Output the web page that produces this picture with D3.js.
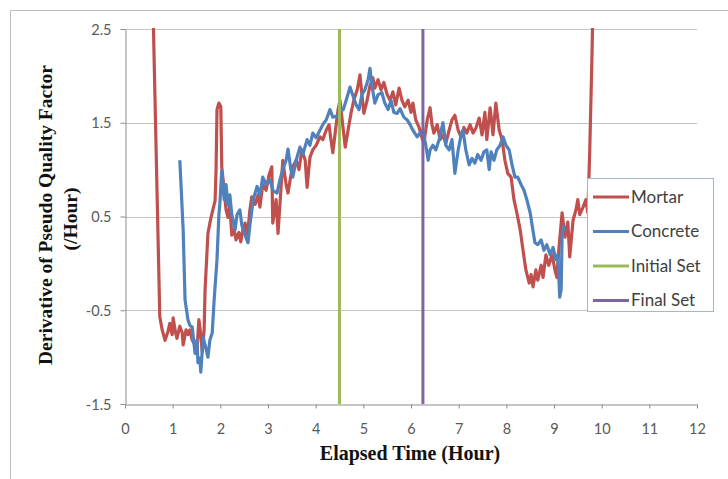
<!DOCTYPE html>
<html><head><meta charset="utf-8">
<script src="https://cdn.jsdelivr.net/npm/d3@7"></script>
<style>body{margin:0;background:#fff}svg{display:block}</style>
</head><body>
<svg id="c" width="728" height="479"></svg>
<script>
const xTicks = [0,1,2,3,4,5,6,7,8,9,10,11,12];
const yTicks = [-1.5,-0.5,0.5,1.5,2.5];
const yTickLabels = ["-1.5","-0.5","0.5","1.5","2.5"];
const seriesNames = ["Mortar","Concrete","Initial Set","Final Set"];

const mortarX = [0.58,0.73,0.78,0.84,0.90,0.94,0.99,1.01,1.05,1.09,1.15,1.20,1.22,1.28,1.32,1.36,1.41,1.47,1.51,1.55,1.59,1.62,1.66,1.68,1.74,1.80,1.89,1.91,1.93,1.97,2.01,2.03,2.08,2.12,2.16,2.20,2.24,2.29,2.33,2.39,2.43,2.48,2.52,2.56,2.62,2.66,2.73,2.79,2.83,2.89,2.96,3.02,3.08,3.10,3.17,3.21,3.27,3.31,3.38,3.42,3.48,3.52,3.59,3.65,3.71,3.78,3.82,3.88,3.94,4.01,4.09,4.15,4.22,4.28,4.32,4.36,4.43,4.47,4.51,4.58,4.62,4.68,4.74,4.80,4.87,4.93,4.97,5.01,5.08,5.14,5.20,5.24,5.31,5.37,5.43,5.50,5.56,5.62,5.68,5.75,5.81,5.87,5.94,6.00,6.04,6.10,6.17,6.21,6.27,6.34,6.40,6.44,6.48,6.55,6.61,6.67,6.73,6.80,6.86,6.92,6.99,7.05,7.11,7.17,7.24,7.30,7.36,7.43,7.49,7.55,7.59,7.66,7.72,7.78,7.85,7.91,7.97,8.03,8.10,8.16,8.22,8.29,8.35,8.41,8.48,8.52,8.56,8.62,8.66,8.73,8.77,8.83,8.89,8.96,9.02,9.06,9.10,9.17,9.23,9.29,9.33,9.40,9.46,9.50,9.54,9.61,9.67,9.71,9.75,9.80,9.82];
const mortarY = [2.9,-0.57,-0.71,-0.82,-0.73,-0.64,-0.76,-0.58,-0.71,-0.80,-0.67,-0.74,-0.87,-0.71,-0.76,-0.71,-0.82,-0.87,-0.92,-0.60,-0.76,-0.95,-0.71,-0.28,0.32,0.48,0.67,0.99,1.64,1.71,1.67,1.03,0.78,0.57,0.49,0.62,0.30,0.36,0.25,0.33,0.23,0.38,0.43,0.25,0.57,0.71,0.63,0.73,0.60,0.84,0.78,0.94,1.03,0.43,0.68,0.32,0.78,1.10,0.84,0.75,0.94,1.03,1.10,1.00,1.21,1.10,0.81,1.13,1.21,1.26,1.35,1.32,1.42,1.48,1.32,1.18,1.48,1.64,1.74,1.42,1.24,1.42,1.60,1.74,1.85,2.01,1.80,1.60,1.74,1.90,1.98,1.87,1.96,1.85,1.93,1.80,1.74,1.83,1.69,1.87,1.74,1.67,1.74,1.61,1.71,1.53,1.45,1.37,1.28,1.53,1.66,1.48,1.39,1.48,1.32,1.37,1.28,1.42,1.53,1.58,1.42,1.35,1.45,1.39,1.48,1.39,1.44,1.55,1.37,1.61,1.32,1.66,1.37,1.71,1.42,1.32,1.10,0.96,0.92,0.68,0.54,0.36,0.14,-0.07,-0.21,-0.12,-0.25,-0.07,-0.18,-0.02,-0.15,0.09,-0.02,0.09,-0.07,-0.15,0.14,0.54,0.28,0.44,0.07,0.46,0.57,0.68,0.52,0.60,0.68,0.54,1.21,2.28,2.9];

const concreteX = [1.15,1.22,1.26,1.32,1.36,1.41,1.45,1.47,1.51,1.53,1.57,1.59,1.64,1.68,1.74,1.78,1.83,1.87,1.93,1.97,1.99,2.03,2.08,2.12,2.16,2.20,2.24,2.31,2.35,2.41,2.45,2.52,2.58,2.62,2.69,2.77,2.83,2.89,2.96,3.04,3.10,3.19,3.25,3.31,3.38,3.42,3.48,3.52,3.59,3.67,3.73,3.82,3.88,3.94,4.01,4.09,4.15,4.22,4.30,4.36,4.45,4.51,4.58,4.64,4.72,4.78,4.85,4.91,4.97,5.03,5.10,5.14,5.18,5.24,5.31,5.39,5.45,5.52,5.58,5.64,5.71,5.77,5.85,5.92,5.98,6.04,6.13,6.19,6.25,6.31,6.36,6.40,6.46,6.52,6.59,6.67,6.73,6.80,6.86,6.92,6.99,7.05,7.09,7.15,7.22,7.28,7.34,7.40,7.47,7.53,7.59,7.64,7.68,7.74,7.80,7.87,7.93,7.99,8.06,8.12,8.18,8.24,8.31,8.37,8.43,8.50,8.54,8.60,8.66,8.73,8.79,8.85,8.92,8.98,9.04,9.08,9.12,9.15,9.17,9.21];
const concreteY = [1.10,0.36,-0.39,-0.60,-0.66,-0.68,-0.87,-0.96,-0.82,-1.06,-1.01,-1.16,-0.79,-0.87,-1.00,-0.82,-0.74,-0.39,0.04,0.52,0.64,0.99,0.68,0.84,0.62,0.73,0.52,0.36,0.52,0.57,0.41,0.30,0.22,0.41,0.68,0.82,0.73,0.92,0.84,0.89,0.78,0.75,0.89,1.00,1.10,1.22,1.00,0.92,1.10,1.24,1.16,1.32,1.26,1.39,1.34,1.42,1.48,1.53,1.64,1.56,1.57,1.62,1.64,1.74,1.88,1.79,1.69,1.64,1.80,1.85,1.96,2.08,1.90,1.71,1.80,1.82,1.71,1.64,1.74,1.61,1.60,1.65,1.56,1.53,1.48,1.42,1.35,1.39,1.42,1.26,1.10,1.21,1.26,1.21,1.32,1.50,1.26,1.21,1.32,0.96,1.21,1.37,1.42,1.21,1.05,1.12,1.07,1.16,1.10,1.19,1.21,1.00,1.19,1.10,1.21,1.26,1.35,1.26,1.21,1.05,0.92,0.92,0.84,0.78,0.68,0.54,0.41,0.22,0.20,0.25,0.14,0.20,0.09,0.17,0.04,0.09,-0.36,-0.28,0.30,0.41];

const initialSet = 4.5;
const finalSet = 6.25;

const colors = {"Mortar":"#c0504d","Concrete":"#4f81bd","Initial Set":"#9bbb59","Final Set":"#8064a2"};

const svg = d3.select("#c");
const W = 728, H = 479;
const m = {l:125, r:697, t:29, b:404};
const x = d3.scaleLinear().domain([0,12]).range([m.l, m.r]);
const y = d3.scaleLinear().domain([-1.5,2.5]).range([m.b, m.t]);

// outer frame (left & top)
svg.append("line").attr("x1",10.5).attr("x2",10.5).attr("y1",10).attr("y2",H).attr("stroke","#bdbdbd");
svg.append("line").attr("x1",10).attr("x2",W).attr("y1",10.5).attr("y2",10.5).attr("stroke","#bdbdbd");

// gridlines
svg.append("g").selectAll("line").data(yTicks.filter(d=>d!==-1.5)).join("line")
  .attr("x1",m.l).attr("x2",m.r).attr("y1",d=>Math.round(y(d))+0.5).attr("y2",d=>Math.round(y(d))+0.5)
  .attr("stroke","#c4c4c4").attr("stroke-width",1);

// axes
const fontTick = "Lato, 'Open Sans', sans-serif";
const xAxis = svg.append("g").attr("transform",`translate(0,${m.b+0.5})`)
  .call(d3.axisBottom(x).tickValues(xTicks).tickSize(4).tickSizeOuter(0).tickFormat(d3.format("d")));
const yAxis = svg.append("g").attr("transform",`translate(${m.l+0.5},0)`)
  .call(d3.axisLeft(y).tickValues(yTicks).tickSize(5).tickSizeOuter(0).tickFormat((d,i)=>yTickLabels[i]));
[xAxis,yAxis].forEach(g=>{
  g.selectAll("path,line").attr("stroke","#8c8c8c");
  g.selectAll("text").attr("fill","#595959").attr("font-family",fontTick).attr("font-size",14.5);
});
xAxis.selectAll("text").attr("dy","0").attr("y",29);
yAxis.selectAll("text").attr("x",-14).attr("dy","0.35em");

// clip
svg.append("clipPath").attr("id","clip").append("rect")
  .attr("x",m.l).attr("y",m.t-1).attr("width",m.r-m.l).attr("height",m.b-m.t+1);

const line = d3.line().x(d=>x(d[0])).y(d=>y(d[1]));
const plot = svg.append("g").attr("clip-path","url(#clip)");
plot.append("path").datum(d3.zip(mortarX,mortarY)).attr("d",line)
  .attr("fill","none").attr("stroke",colors["Mortar"]).attr("stroke-width",3.2).attr("stroke-linejoin","round");
plot.append("path").datum(d3.zip(concreteX,concreteY)).attr("d",line)
  .attr("fill","none").attr("stroke",colors["Concrete"]).attr("stroke-width",3.2).attr("stroke-linejoin","round");
[[initialSet,"Initial Set"],[finalSet,"Final Set"]].forEach(([v,n])=>{
  plot.append("line").attr("x1",x(v)).attr("x2",x(v)).attr("y1",y(2.5)).attr("y2",y(-1.5))
    .attr("stroke",colors[n]).attr("stroke-width",3);
});

// axis titles
const serif = "'Liberation Serif', 'Times New Roman', serif";
svg.append("text").attr("x",410).attr("y",460).attr("text-anchor","middle")
  .attr("font-family",serif).attr("font-weight","bold")
  .attr("font-size",20).attr("fill","#111").text("Elapsed Time (Hour)");
svg.append("g").attr("transform","translate(52,215) rotate(-90)").append("text")
  .attr("text-anchor","middle")
  .attr("font-family",serif).attr("font-weight","bold")
  .attr("font-size",19.5).attr("fill","#111").text("Derivative of Pseudo Quality Factor");
svg.append("g").attr("transform","translate(77,219) rotate(-90)").append("text")
  .attr("text-anchor","middle")
  .attr("font-family",serif).attr("font-weight","bold")
  .attr("font-size",19.5).attr("fill","#111").text("(/Hour)");

// legend
const lg = svg.append("g");
lg.append("rect").attr("x",587.5).attr("y",178.5).attr("width",126).attr("height",133)
  .attr("fill","#fff").attr("stroke","#a3b5cf");
seriesNames.forEach((n,i)=>{
  const cy = 197 + i*34.5;
  lg.append("line").attr("x1",593).attr("x2",629).attr("y1",cy).attr("y2",cy)
    .attr("stroke",colors[n]).attr("stroke-width",3);
  lg.append("text").attr("x",631).attr("y",cy).attr("dy","0.35em")
    .attr("font-family",fontTick).attr("font-size",17).attr("fill","#404040").text(n);
});
</script>
</body></html>
